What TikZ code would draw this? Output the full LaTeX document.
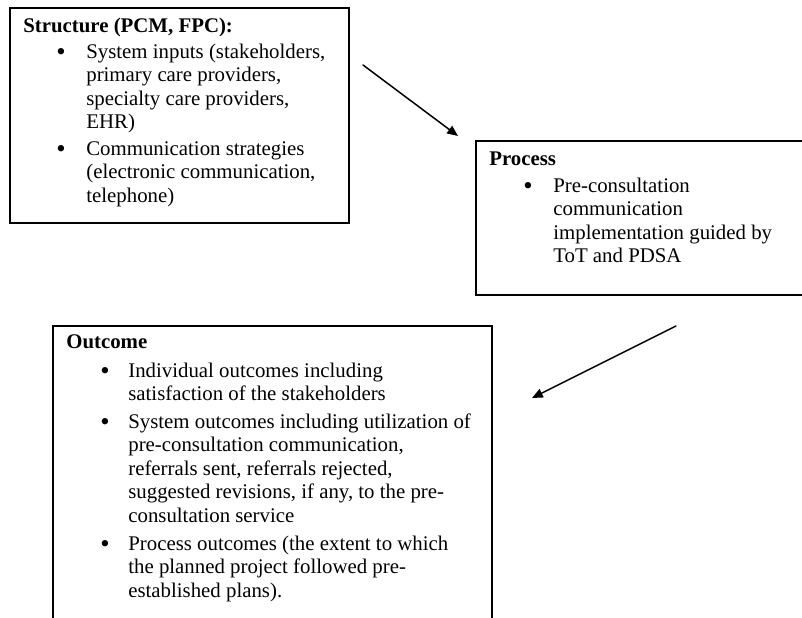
\documentclass[tikz,border=0pt]{standalone}
\usepackage{fontspec}
\setmainfont{Liberation Serif}
\usetikzlibrary{arrows.meta}
\newcommand{\textlines}[1]{\begin{tabular}[t]{@{}l@{}}#1\end{tabular}}
\newcommand{\dotmark}{\raisebox{-1.2pt}{\fontsize{16pt}{14pt}\selectfont\textbullet}}

\begin{document}
\begin{tikzpicture}[x=0.6pt,y=-0.6pt,>={Triangle[length=6.5pt,width=5.5pt]},
  font=\fontsize{12.5pt}{14.1pt}\selectfont,line cap=round]
\tikzset{
  panel/.style={line width=1pt},
  head/.style={anchor=base west,inner sep=0pt,font=\fontsize{12.5pt}{14.1pt}\selectfont\bfseries},
  bul/.style={anchor=base west,inner sep=0pt},
  entry/.style={anchor=base west,inner sep=0pt},
  flow/.style={->,line width=0.9pt}
}
\useasboundingbox (0,0) rectangle (802,618);
\clip (0,0) rectangle (802,618);
% boxes (the last two run past the page edge)
\draw[panel] (10,8) rectangle (349,223);
\draw[panel] (476,141) rectangle (830,295);
\draw[panel] (53,326) rectangle (492,660);
% structure
\node[head] (shead) at (23,32) {Structure (PCM, FPC):};
\node[bul] (sb1) at (56,58) {\dotmark};
\node[entry] (st1) at (86,58) {\textlines{System inputs (stakeholders,\\primary care providers,\\specialty care providers,\\EHR)}};
\node[bul] (sb2) at (56,155) {\dotmark};
\node[entry] (st2) at (86,155) {\textlines{Communication strategies\\(electronic communication,\\telephone)}};
% process
\node[head] (phead) at (489,165) {Process};
\node[bul] (pb1) at (523,192) {\dotmark};
\node[entry] (pt1) at (553,192) {\textlines{Pre-consultation\\communication\\implementation guided by\\ToT and PDSA}};
% outcome
\node[head] (ohead) at (66,348) {Outcome};
\node[bul] (ob1) at (100,377) {\dotmark};
\node[entry] (ot1) at (128,377) {\textlines{Individual outcomes including\\satisfaction of the stakeholders}};
\node[bul] (ob2) at (100,428) {\dotmark};
\node[entry] (ot2) at (128,428) {\textlines{System outcomes including utilization of\\pre-consultation communication,\\referrals sent, referrals rejected,\\suggested revisions, if any, to the pre-\\consultation service}};
\node[bul] (ob3) at (100,550) {\dotmark};
\node[entry] (ot3) at (128,550) {\textlines{Process outcomes (the extent to which\\the planned project followed pre-\\established plans).}};
% arrows
\coordinate (a1s) at (363,65);
\coordinate (a1e) at (458,136);
\coordinate (a2s) at (676,326);
\coordinate (a2e) at (532,398);
\draw[flow] (a1s) -- (a1e);
\draw[flow] (a2s) -- (a2e);
\end{tikzpicture}
\end{document}
